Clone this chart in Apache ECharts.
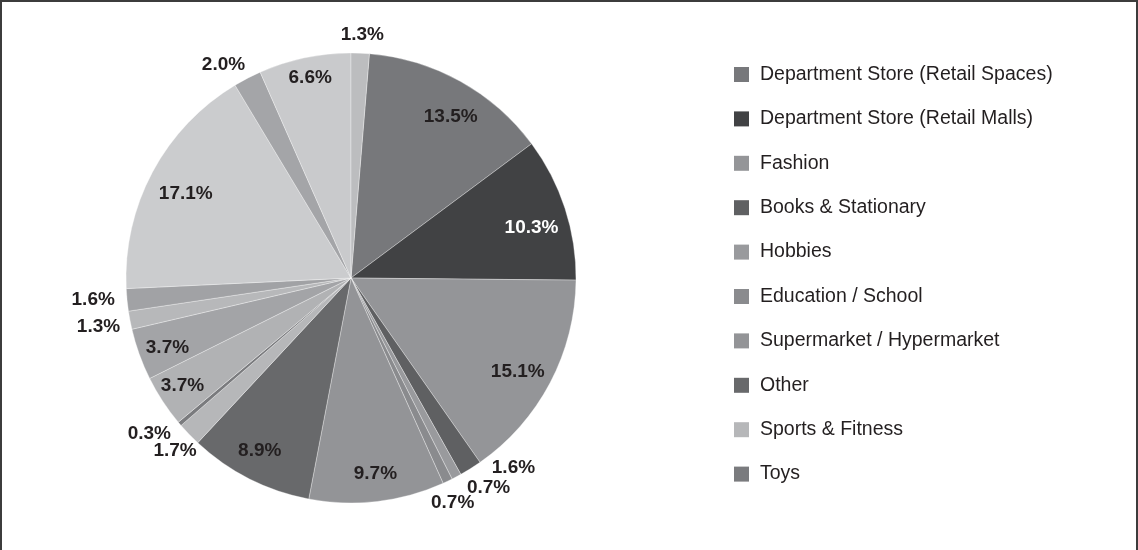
<!DOCTYPE html>
<html>
<head>
<meta charset="utf-8">
<script src="https://cdn.jsdelivr.net/npm/echarts@6/dist/echarts.min.js"></script>
<style>
html,body{margin:0;padding:0;background:#fff;}
#chart{width:1138px;height:550px;}
</style>
</head>
<body>
<div id="chart"></div>
<script>
// Slices, clockwise from the 12 o'clock position (legend shows the first 10 only)
const categories = [
  'Department Store (Retail Spaces)',
  'Department Store (Retail Malls)',
  'Fashion',
  'Books & Stationary',
  'Hobbies',
  'Education / School',
  'Supermarket / Hypermarket',
  'Other',
  'Sports & Fitness',
  'Toys',
  'Unlabelled 11',
  'Unlabelled 12',
  'Unlabelled 13',
  'Unlabelled 14',
  'Unlabelled 15',
  'Unlabelled 16',
  'Unlabelled 17',
  'Unlabelled 18'
];
const shares = [13.5, 10.3, 15.1, 1.6, 0.7, 0.7, 9.7, 8.9, 1.7, 0.3, 3.7, 3.7, 1.3, 1.6, 17.1, 2.0, 6.6, 1.3];
const legendNames = categories.slice(0, 10);

const colors = ['#77787b','#414244','#949598','#5f6062','#999a9d','#8a8b8e','#939497','#68696b','#b6b7b9','#7a7b7e',
                '#b1b2b4','#a3a4a7','#b7b8ba','#a1a2a5','#cbccce','#a4a5a8','#c9cacc','#bcbdbf'];

const total = shares.reduce((a, b) => a + b, 0);
const firstOffsetDeg = shares[shares.length - 1] / total * 360;
const startAngle = 90 - firstOffsetDeg;
const center = [351, 278];
const insideMin = 3;

// small nudges of label text (pixels)
const insideNudge = {0:[6,8],1:[-3,10],2:[-4,4],6:[2,4],7:[-4,1],10:[-7,2],11:[-2,4],14:[5,7],16:[-1,-11]};
const outsideNudge = {3:[28,-25],4:[19,-14],5:[-7,-4],8:[6,-3],9:[-9,-8],12:[-4,1],13:[-6,-3],15:[-11,11],17:[1,10]};

const mainData = categories.map((n, i) => ({name: n, value: shares[i], itemStyle: {color: colors[i]}}));

function overlayData(isInside) {
  return categories.map((n, i) => {
    const show = isInside ? shares[i] >= insideMin : shares[i] < insideMin;
    const nudge = (isInside ? insideNudge : outsideNudge)[i] || [0, 0];
    return {
      name: n, value: shares[i],
      label: {show: show, offset: nudge, color: (isInside && i === 1) ? '#ffffff' : '#231f20'}
    };
  });
}

const labelFont = {fontFamily: '"Liberation Sans", Arial, Helvetica, sans-serif', fontWeight: 'bold', fontSize: 19};

const chart = echarts.init(document.getElementById('chart'), null, {renderer: 'canvas'});
chart.setOption({
  animation: false,
  backgroundColor: '#ffffff',
  graphic: [{
    type: 'polyline',
    shape: {points: [[1, 551], [1, 1], [1137, 1], [1137, 551]]},
    style: {stroke: '#3c3c3c', lineWidth: 2, fill: null},
    silent: true
  }],
  legend: {
    data: legendNames,
    orient: 'vertical',
    left: 734,
    top: 64.5,
    padding: 0,
    icon: 'rect',
    itemWidth: 15,
    itemHeight: 15,
    itemGap: 24.4,
    selectedMode: false,
    itemStyle: {borderWidth: 0},
    textStyle: {
      fontFamily: '"Liberation Sans", Arial, Helvetica, sans-serif',
      fontSize: 19.5, color: '#231f20', padding: [0, 0, 0, 6]
    }
  },
  series: [
    {
      type: 'pie',
      center: center,
      radius: [0, 225],
      startAngle: startAngle,
      clockwise: true,
      avoidLabelOverlap: false,
      silent: true,
      label: {show: false},
      labelLine: {show: false},
      itemStyle: {borderColor: 'rgba(255,255,255,0.55)', borderWidth: 0.6},
      emphasis: {disabled: true},
      data: mainData
    },
    {
      type: 'pie',
      center: center,
      radius: [155, 225],
      startAngle: startAngle,
      clockwise: true,
      avoidLabelOverlap: false,
      labelLayout: {hideOverlap: false},
      silent: true,
      legendHoverLink: false,
      itemStyle: {color: 'rgba(0,0,0,0)', borderWidth: 0},
      label: Object.assign({position: 'inside', formatter: p => p.value.toFixed(1) + '%'}, labelFont),
      labelLine: {show: false},
      emphasis: {disabled: true},
      data: overlayData(true)
    },
    {
      type: 'pie',
      center: center,
      radius: [225, 275],
      startAngle: startAngle,
      clockwise: true,
      avoidLabelOverlap: false,
      labelLayout: {hideOverlap: false},
      silent: true,
      legendHoverLink: false,
      itemStyle: {color: 'rgba(0,0,0,0)', borderWidth: 0},
      label: Object.assign({position: 'inside', formatter: p => p.value.toFixed(1) + '%'}, labelFont),
      labelLine: {show: false},
      emphasis: {disabled: true},
      data: overlayData(false)
    }
  ]
});
</script>
</body>
</html>
